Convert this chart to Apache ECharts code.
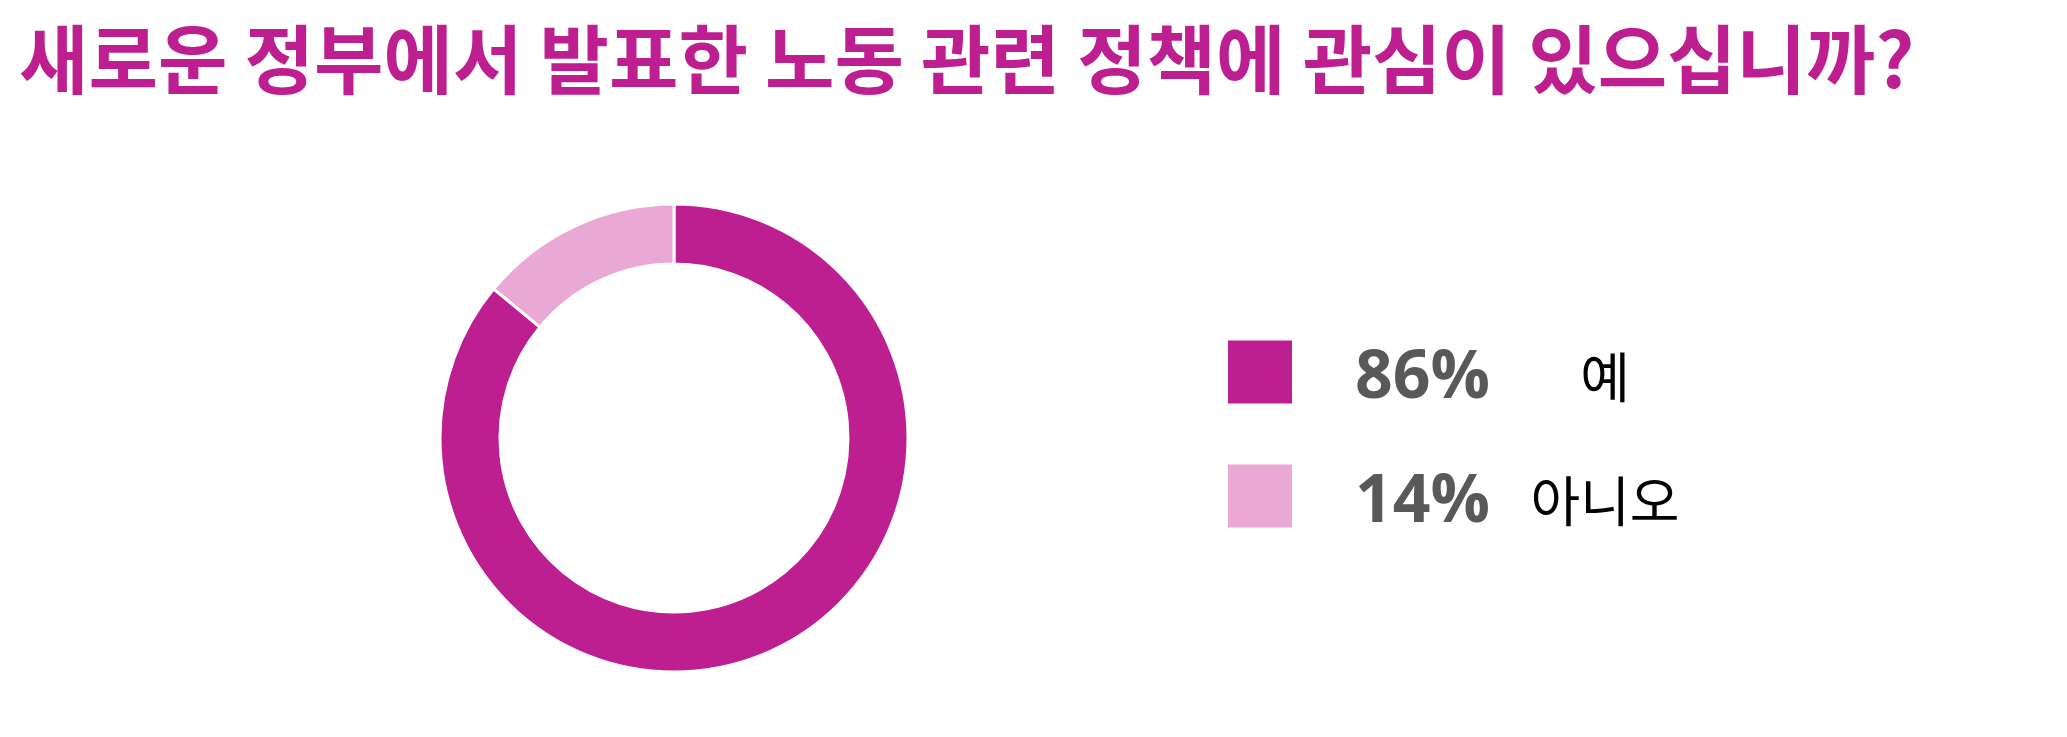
<!DOCTYPE html>
<html>
<head>
<meta charset="utf-8">
<script src="https://cdn.jsdelivr.net/npm/echarts@6/dist/echarts.min.js"></script>
<style>
html,body{margin:0;padding:0;background:#fff;}
#chart{width:2067px;height:737px;}
</style>
</head>
<body>
<div id="chart"></div>
<script>
const titleText = '새로운 정부에서 발표한 노동 관련 정책에 관심이 있으십니까?';
const categories = ['예', '아니오'];
const values = [86, 14];
const colors = ['#BD1E90', '#EAA9D4'];

const total = values.reduce((a, b) => a + b, 0);
const chart = echarts.init(document.getElementById('chart'), null, {renderer: 'canvas'});
chart.setOption({
  backgroundColor: '#ffffff',
  animation: false,
  title: {
    text: titleText,
    left: 14,
    top: 17,
    textStyle: {
      fontFamily: '"Noto Sans CJK KR", sans-serif',
      fontWeight: 'bold',
      fontSize: 75.5,
      color: '#BD1E90'
    }
  },
  legend: {
    orient: 'vertical',
    left: 1221,
    top: 327,
    itemWidth: 66,
    itemHeight: 65,
    itemGap: 44,
    icon: 'rect',
    selectedMode: false,
    data: categories,
    formatter: function (name) {
      const i = categories.indexOf(name);
      const pct = Math.round(values[i] / total * 100);
      return '{p|' + pct + '%}{n|' + name + '}';
    },
    textStyle: {
      rich: {
        p: {
          fontFamily: '"Open Sans", sans-serif',
          fontWeight: 'bold',
          fontSize: 66,
          lineHeight: 50,
          color: '#595959',
          width: 175,
          align: 'left',
          padding: [14, 0, 0, 57]
        },
        n: {
          fontFamily: '"Noto Sans CJK KR", sans-serif',
          fontSize: 54,
          lineHeight: 50,
          color: '#000000',
          width: 150,
          align: 'center',
          padding: [10, 0, 0, 0]
        }
      }
    }
  },
  series: [{
    type: 'pie',
    center: [674, 438],
    radius: [174, 234],
    startAngle: 90,
    clockwise: true,
    label: {show: false},
    labelLine: {show: false},
    emphasis: {disabled: true},
    itemStyle: {borderColor: '#ffffff', borderWidth: 3},
    data: categories.map((c, i) => ({name: c, value: values[i], itemStyle: {color: colors[i]}}))
  }]
});
</script>
</body>
</html>
